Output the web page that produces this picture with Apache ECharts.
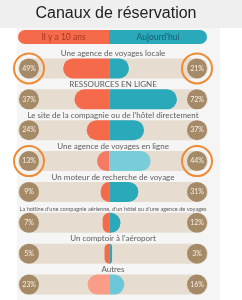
<!DOCTYPE html>
<html>
<head>
<meta charset="utf-8">
<script src="https://cdn.jsdelivr.net/npm/echarts@6/dist/echarts.min.js"></script>
<style>
html, body { margin: 0; padding: 0; background: #fff; }
#chart { width: 242px; height: 300px; }
</style>
</head>
<body>
<div id="chart"></div>
<script>
// données
const categories = [
  'Une agence de voyages locale',
  'RESSOURCES EN LIGNE',
  "Le site de la compagnie ou de l'hôtel directement",
  'Une agence de voyages en ligne',
  'Un moteur de recherche de voyage',
  "La hotline d'une compagnie aérienne, d'un hôtel ou d'une agence de voyages",
  "Un comptoir à l'aéroport",
  'Autres'
];
const past = [49, 37, 24, 13, 9, 7, 5, 23];
const today = [21, 72, 37, 44, 31, 12, 3, 16];
const highlighted = [0, 3];

const labelFont = 'Lato, "Open Sans", sans-serif';
const orange = '#f46a4b';
const teal = '#2aa9bb';
// lignes un peu plus claires sur l'original
const lightPast = { 3: '#f47a66', 7: '#f99d88' };
const lightToday = { 3: '#78cdd8', 7: '#6cc8d9' };

function labelAxis(position, z, formatter, rich) {
  return {
    type: 'category',
    data: categories,
    inverse: true,
    position: position,
    z: z,
    axisLine: { show: false },
    axisTick: { show: false },
    splitLine: { show: false },
    axisLabel: {
      inside: true,
      margin: 11,
      align: 'center',
      interval: 0,
      formatter: formatter,
      rich: rich
    }
  };
}

const circleRich = {
  c: {
    width: 20, height: 20, lineHeight: 20, borderRadius: 10,
    backgroundColor: '#a58a68', color: '#f6efe5',
    fontSize: 7, fontFamily: labelFont, align: 'center'
  }
};
const ringRich = {
  r: { width: 30, height: 30, borderRadius: 17, borderColor: '#ef8a35', borderWidth: 2 }
};
const ring = (v, i) => highlighted.includes(i) ? '{r| }' : '';

const chart = echarts.init(document.getElementById('chart'));
chart.setOption({
  animation: false,
  grid: { left: 18, right: 34, top: 53, bottom: 0 },
  xAxis: [
    { type: 'value', min: -97, max: 105, show: false },
    { type: 'value', min: 0, max: 1, show: false }
  ],
  yAxis: [
    labelAxis('left', 5, (v, i) => '{c|' + past[i] + '%}', circleRich),
    labelAxis('right', 5, (v, i) => '{c|' + today[i] + '%}', circleRich),
    labelAxis('left', 4, ring, ringRich),
    labelAxis('right', 4, ring, ringRich)
  ],
  graphic: [
    { type: 'rect', z: -10, shape: { x: 0, y: 0, width: 242, height: 28 }, style: { fill: '#efefef' } },
    { type: 'rect', z: -10, shape: { x: 17, y: 28, width: 203, height: 272 }, style: { fill: '#f5f5f5' } },
    {
      type: 'text', x: 116, y: 14,
      style: { text: 'Canaux de réservation', fill: '#222', fontSize: 16,
        fontFamily: '"Liberation Sans", Arial, sans-serif', align: 'center', verticalAlign: 'middle' }
    },
    {
      type: 'rect', shape: { x: 18, y: 30, width: 91, height: 14, r: [7, 0, 0, 7] },
      style: { fill: orange },
      textContent: { style: { text: 'Il y a 10 ans', fill: '#a8391f', fontSize: 8.5, fontFamily: labelFont } },
      textConfig: { position: 'inside' }
    },
    {
      type: 'rect', shape: { x: 109, y: 30, width: 98, height: 14, r: [0, 7, 7, 0] },
      style: { fill: teal },
      textContent: { style: { text: "Aujourd'hui", fill: '#165d6f', fontSize: 8.5, fontFamily: labelFont } },
      textConfig: { position: 'inside' }
    }
  ],
  series: [
    {
      name: 'piste',
      type: 'bar',
      xAxisIndex: 1,
      yAxisIndex: 0,
      silent: true,
      barWidth: 20,
      barGap: '-100%',
      data: categories.map(c => ({
        value: 1,
        // la longue étiquette de la hotline est écrite en tout petit
        label: c.length > 60 ? { fontSize: 5.6 } : undefined
      })),
      itemStyle: { color: '#e6ddd0', borderRadius: 10 },
      label: {
        show: true,
        position: 'top',
        distance: 1,
        formatter: p => p.name,
        color: '#5e5e5e',
        fontSize: 8,
        fontFamily: labelFont
      }
    },
    {
      name: 'Il y a 10 ans',
      type: 'bar',
      xAxisIndex: 0,
      yAxisIndex: 0,
      barWidth: 20,
      barGap: '-100%',
      data: past.map((v, i) => ({
        value: -v,
        itemStyle: lightPast[i] ? { color: lightPast[i] } : undefined
      })),
      itemStyle: { color: orange, borderRadius: [10, 0, 0, 10] }
    },
    {
      name: "Aujourd'hui",
      type: 'bar',
      xAxisIndex: 0,
      yAxisIndex: 0,
      barWidth: 20,
      barGap: '-100%',
      data: today.map((v, i) => ({
        value: v,
        itemStyle: lightToday[i] ? { color: lightToday[i] } : undefined
      })),
      itemStyle: { color: teal, borderRadius: [0, 10, 10, 0] }
    }
  ]
});
</script>
</body>
</html>
